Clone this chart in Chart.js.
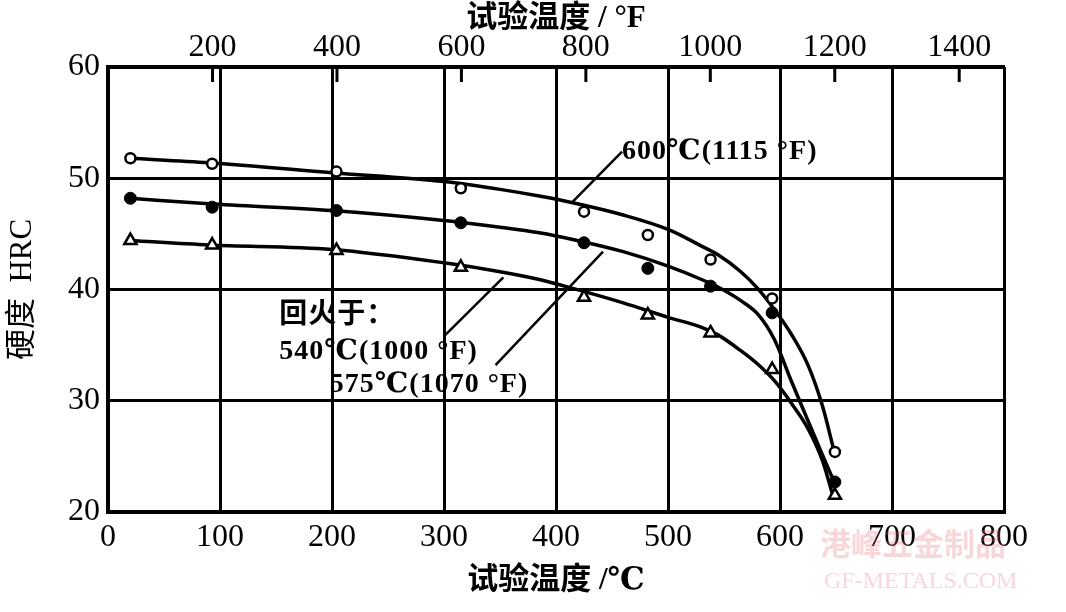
<!DOCTYPE html>
<html>
<head>
<meta charset="utf-8">
<script src="https://cdn.jsdelivr.net/npm/chart.js@4.4.1/dist/chart.umd.min.js"></script>
<style>
  html, body { margin: 0; padding: 0; background: #fff; }
  #wrap { width: 1066px; height: 612px; }
</style>
</head>
<body>
<div id="wrap"><canvas id="mycanvas" width="1066" height="612"></canvas></div>
<script>
// test temperatures (°C) and measured hardness (HRC)
const testTemps = [20, 93, 204, 315, 425, 482, 538, 593, 649];
const hrcOpen   = [51.8, 51.3, 50.6, 49.1, 47.0, 44.9, 42.7, 39.2, 25.4];
const hrcFilled = [48.2, 47.4, 47.1, 46.0, 44.2, 41.9, 40.3, 37.9, 22.7];
const hrcTri    = [44.4, 44.0, 43.5, 42.0, 39.3, 37.7, 36.1, 32.8, 21.5];

// smoothed curves
const curveTemps  = [20, 90, 200, 300, 350, 385, 415, 460, 500, 530, 545, 565, 580, 595, 610, 625, 638, 648];
const curveOpen   = [51.8, 51.4, 50.5, 49.7, 49.0, 48.4, 47.8, 46.7, 45.4, 43.9, 43.1, 41.6, 40.1, 38.2, 36.0, 33.2, 29.5, 25.6];
const curveFilled = [48.2, 47.7, 47.1, 46.2, 45.6, 45.1, 44.5, 43.4, 42.1, 40.9, 40.2, 39.0, 37.8, 35.5, 31.8, 28.2, 25.1, 22.8];
const curveTri    = [44.4, 44.0, 43.6, 42.4, 41.6, 40.9, 40.1, 38.8, 37.5, 36.6, 35.9, 34.5, 33.3, 31.8, 29.8, 27.5, 24.6, 21.2];

const fTicks = [200, 400, 600, 800, 1000, 1200, 1400];

// annotations (°C, HRC)
const notes = [
    { text: '600℃(1115 °F)', x: 459, y: 52.4 },
    { text: '回火于：', x: 153, y: 37.6 },
    { text: '540℃(1000 °F)', x: 153, y: 34.4 },
    { text: '575℃(1070 °F)', x: 198, y: 31.4 }
];
const leaders = [
    [459, 52.4, 415, 47.9],
    [301, 35.9, 353, 41.1],
    [346, 33.2, 442, 43.4]
];

const SERIF = "'Liberation Serif', 'DejaVu Serif', 'DejaVu Sans', 'Noto Sans CJK SC', serif";

function pts(xs, ys) {
    return xs.map((x, i) => ({ x: x, y: ys[i] }));
}

function curve(ys) {
    return {
        data: pts(curveTemps, ys),
        showLine: true,
        borderColor: '#000',
        borderWidth: 3.5,
        pointRadius: 0,
        cubicInterpolationMode: 'monotone',
        order: 2
    };
}

const extras = {
    id: 'extras',
    afterDraw(chart) {
        const ctx = chart.ctx;
        const sx = chart.scales.x, sy = chart.scales.y, sf = chart.scales.xF;
        const top = chart.chartArea.top;
        ctx.save();
        ctx.strokeStyle = '#000';
        ctx.lineWidth = 3;
        fTicks.forEach(f => {
            const px = sf.getPixelForValue(f);
            ctx.beginPath();
            ctx.moveTo(px, top);
            ctx.lineTo(px, top + 15);
            ctx.stroke();
        });
        ctx.lineWidth = 2.5;
        leaders.forEach(l => {
            ctx.beginPath();
            ctx.moveTo(sx.getPixelForValue(l[0]), sy.getPixelForValue(l[1]));
            ctx.lineTo(sx.getPixelForValue(l[2]), sy.getPixelForValue(l[3]));
            ctx.stroke();
        });
        ctx.fillStyle = '#000';
        ctx.font = 'bold 28px ' + SERIF;
        ctx.letterSpacing = '1px';
        ctx.textAlign = 'left';
        ctx.textBaseline = 'middle';
        notes.forEach(n => {
            ctx.fillText(n.text, sx.getPixelForValue(n.x), sy.getPixelForValue(n.y));
        });
        ctx.letterSpacing = '0px';
        // faint watermark
        ctx.fillStyle = 'rgba(225,110,120,0.28)';
        ctx.font = 'bold 31px ' + SERIF;
        ctx.fillText('港峰五金制品', 820, 547);
        ctx.font = '24px ' + SERIF;
        ctx.fillText('GF-METALS.COM', 824, 582);
        ctx.restore();
    }
};

var ctx = document.getElementById('mycanvas');

var chart = new Chart(ctx, {
    type: 'scatter',
    data: {
        datasets: [
            {
                data: pts(testTemps, hrcOpen),
                pointStyle: 'circle',
                pointRadius: 5,
                pointBackgroundColor: '#fff',
                pointBorderColor: '#000',
                pointBorderWidth: 2.5,
                order: 1
            },
            {
                data: pts(testTemps, hrcFilled),
                pointStyle: 'circle',
                pointRadius: 6,
                pointBackgroundColor: '#000',
                pointBorderColor: '#000',
                pointBorderWidth: 1,
                order: 1
            },
            {
                data: pts(testTemps, hrcTri),
                pointStyle: 'triangle',
                pointRadius: 7,
                pointBackgroundColor: '#fff',
                pointBorderColor: '#000',
                pointBorderWidth: 2.5,
                order: 1
            },
            curve(curveOpen),
            curve(curveFilled),
            curve(curveTri)
        ]
    },
    options: {
        responsive: false,
        animation: false,
        layout: { padding: { right: 62, top: 0, left: 0, bottom: 0 } },
        plugins: {
            legend: { display: false },
            tooltip: { enabled: false }
        },
        scales: {
            x: {
                type: 'linear',
                position: 'bottom',
                min: 0,
                max: 800,
                afterFit: s => { s.height = 100; },
                ticks: {
                    stepSize: 100,
                    color: '#000',
                    padding: 6,
                    font: { family: SERIF, size: 32 }
                },
                grid: { color: '#000', lineWidth: 3, drawTicks: false },
                border: { color: '#000', width: 4 },
                title: {
                    display: true,
                    text: '试验温度 /℃',
                    color: '#000',
                    padding: { top: 0, bottom: 12 },
                    font: { family: SERIF, size: 31, weight: 'bold' }
                }
            },
            xF: {
                type: 'linear',
                position: 'top',
                min: 32,
                max: 1472,
                afterFit: s => { s.height = 67; },
                afterBuildTicks: s => { s.ticks = fTicks.map(v => ({ value: v })); },
                ticks: {
                    color: '#000',
                    padding: 0,
                    callback: v => String(v),
                    font: { family: SERIF, size: 32 }
                },
                grid: { drawOnChartArea: false, drawTicks: false },
                border: { color: '#000', width: 4 },
                title: {
                    display: true,
                    text: '试验温度 / °F',
                    color: '#000',
                    padding: { bottom: 0, top: 0 },
                    font: { family: SERIF, size: 31, weight: 'bold' }
                }
            },
            y: {
                min: 20,
                max: 60,
                afterFit: s => { s.width = 108; },
                ticks: {
                    stepSize: 10,
                    color: '#000',
                    padding: 8,
                    font: { family: SERIF, size: 32 }
                },
                grid: { color: '#000', lineWidth: 3, drawTicks: false },
                border: { color: '#000', width: 4 },
                title: {
                    display: true,
                    text: '硬度  HRC',
                    color: '#000',
                    padding: { bottom: 2 },
                    font: { family: SERIF, size: 31 }
                }
            }
        }
    },
    plugins: [extras]
});
</script>
</body>
</html>
